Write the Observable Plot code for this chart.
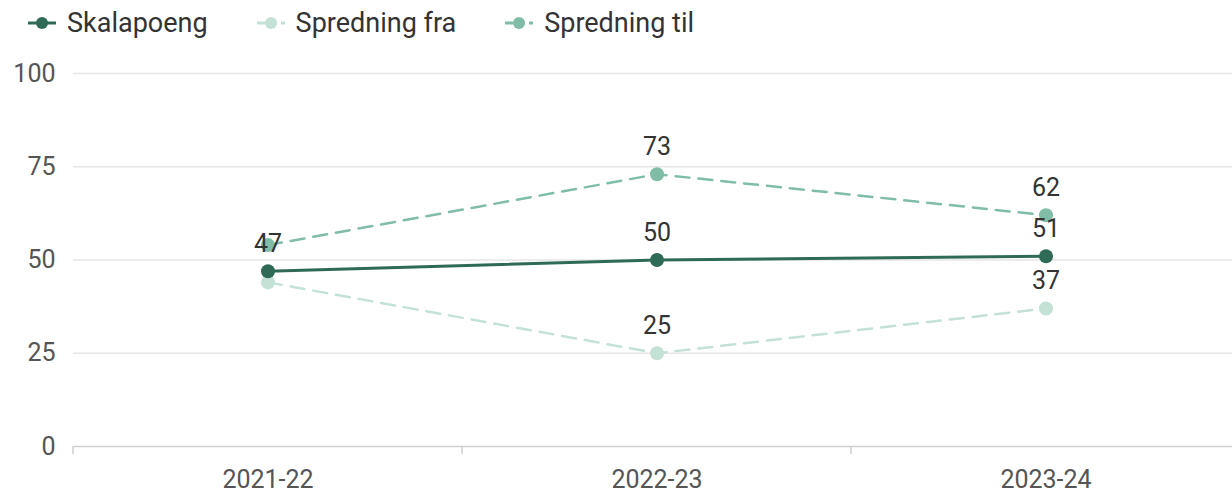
<!DOCTYPE html>
<html><head><meta charset="utf-8">
<script src="https://cdn.jsdelivr.net/npm/d3@7"></script>
<script src="https://cdn.jsdelivr.net/npm/@observablehq/plot@0.6"></script>
<style>
body{margin:0;background:#fff;font-family:Roboto,"Noto Sans",sans-serif;overflow:hidden}
#legend{height:45px;display:flex;align-items:center;padding-left:27px;box-sizing:border-box;font-size:27px;color:#333}
.item{display:flex;align-items:center;margin-right:48px}
.item svg{margin-right:10px}
</style></head><body>
<div id="legend"></div><div id="chart"></div>
<script>
const years = ["2021-22", "2022-23", "2023-24"];
const seriesNames = ["Skalapoeng", "Spredning fra", "Spredning til"];
const skalapoeng = [47, 50, 51];
const spredningFra = [44, 25, 37];
const spredningTil = [54, 73, 62];
const yTicks = [0, 25, 50, 75, 100];
const colors = ["#2f6a57", "#c3e1d5", "#80bda7"];
const dashes = [null, "14,9", "14,9"];

const valuesBySeries = [skalapoeng, spredningFra, spredningTil];
const data = [];
valuesBySeries.forEach((vals, s) => vals.forEach((v, i) => data.push({series: seriesNames[s], year: years[i], value: v, idx: i})));
// labels hidden where they overlap at first category for the spread series
const labelData = data.filter(d => d.series === "Skalapoeng" || d.idx > 0);

// legend
const legend = document.getElementById("legend");
seriesNames.forEach((name, s) => {
  const el = document.createElement("div");
  el.className = "item";
  el.innerHTML = `<svg width="30" height="18"><line x1="1" x2="29" y1="9" y2="9" stroke="${colors[s]}" stroke-width="3" ${dashes[s] ? 'stroke-dasharray="8,4"' : ''}/><circle cx="15" cy="9" r="6" fill="${colors[s]}"/></svg><span>${name}</span>`;
  legend.appendChild(el);
});

const marks = [
  Plot.gridY(yTicks.filter(t => t > 0), {stroke: "#e6e6e6", strokeOpacity: 1, strokeWidth: 1.5}),
  Plot.ruleY([0], {stroke: "#cfcfcf", strokeWidth: 1.5}),
  Plot.axisY(yTicks, {tickSize: 0, tickPadding: 18, fontSize: 25, fill: "#555", label: null}),
  Plot.axisX({tickSize: 0, tickPadding: 24, fontSize: 25, fill: "#555", label: null})
];

const order = [1, 2, 0];
for (const s of order) {
  const sd = data.filter(d => d.series === seriesNames[s]);
  marks.push(Plot.line(sd, {x: "year", y: "value", stroke: colors[s], strokeWidth: s === 0 ? 3 : 2.5, strokeDasharray: dashes[s] || undefined}));
  marks.push(Plot.dot(sd, {x: "year", y: "value", fill: colors[s], r: 7}));
}
marks.push(Plot.text(labelData, {x: "year", y: "value", text: d => String(d.value), dy: -27, fontSize: 25, fill: "#333"}));

const chart = Plot.plot({
  width: 1232,
  height: 448,
  marginLeft: 73,
  marginRight: -8,
  marginTop: 28,
  marginBottom: 47,
  style: {fontFamily: "Roboto, sans-serif", background: "#fff", overflow: "visible"},
  x: {type: "band", domain: years, padding: 0, label: null},
  y: {domain: [0, 100], label: null},
  marks
});
document.getElementById("chart").appendChild(chart);

// band boundary ticks on the x baseline
const svg = d3.select(chart);
const x = chart.scale("x"), y = chart.scale("y");
const step = x.bandwidth;
for (let i = 0; i <= years.length; i++) {
  const px = x.apply(years[0]) + i * step;
  svg.append("line").attr("x1", px).attr("x2", px).attr("y1", y.apply(0)).attr("y2", y.apply(0) + 8).attr("stroke", "#cfcfcf").attr("stroke-width", 1.5);
}
</script>
</body></html>
